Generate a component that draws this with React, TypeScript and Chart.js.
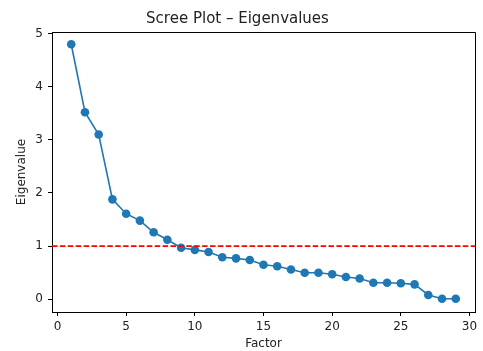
import React, { useEffect, useRef } from "react";
import { Chart, registerables } from "chart.js";

Chart.register(...registerables);

const factors = [1, 2, 3, 4, 5, 6, 7, 8, 9, 10, 11, 12, 13, 14, 15, 16, 17, 18, 19, 20, 21, 22, 23, 24, 25, 26, 27, 28, 29];
const eigenvalues = [4.8, 3.52, 3.1, 1.88, 1.61, 1.48, 1.26, 1.12, 0.97, 0.93, 0.89, 0.79, 0.77, 0.74, 0.65, 0.62, 0.56, 0.5, 0.5, 0.47, 0.42, 0.39, 0.31, 0.31, 0.3, 0.28, 0.08, 0.01, 0.01];
const xTicks = [0, 5, 10, 15, 20, 25, 30];
const yTicks = [0, 1, 2, 3, 4, 5];
const threshold = 1;
const xRange = [-0.4, 30.4];
const yRange = [-0.24, 5.03];

const FONT = "'DejaVu Sans', sans-serif";
const TEXT = "#222";

const framePlugin = {
  id: "frame",
  afterDraw(chart: any) {
    const { ctx, chartArea } = chart;
    ctx.save();
    ctx.strokeStyle = "#000";
    ctx.lineWidth = 1;
    ctx.beginPath();
    ctx.moveTo(chartArea.left, chartArea.top + 0.5);
    ctx.lineTo(chartArea.right + 0.5, chartArea.top + 0.5);
    ctx.lineTo(chartArea.right + 0.5, chartArea.bottom);
    ctx.stroke();
    ctx.restore();
  },
};

export default function App() {
  const ref = useRef<HTMLCanvasElement>(null);

  useEffect(() => {
    if (!ref.current) return;
    const chart = new Chart(ref.current, {
      type: "line",
      data: {
        datasets: [
          {
            label: "Eigenvalue = 1",
            data: [
              { x: xRange[0], y: threshold },
              { x: xRange[1], y: threshold },
            ],
            borderColor: "#ff0000",
            borderWidth: 1.6,
            borderDash: [5.5, 2.4],
            pointRadius: 0,
            order: 0,
          },
          {
            label: "Eigenvalues",
            data: factors.map((f, i) => ({ x: f, y: eigenvalues[i] })),
            borderColor: "#1f77b4",
            backgroundColor: "#1f77b4",
            borderWidth: 1.6,
            pointRadius: 4.3,
            pointBorderWidth: 0,
            pointBackgroundColor: "#1f77b4",
            tension: 0,
            order: 1,
          },
        ],
      },
      options: {
        animation: false,
        responsive: false,
        devicePixelRatio: 1,
        layout: { padding: { left: 0, right: 8, top: 0, bottom: 0 } },
        plugins: {
          legend: { display: false },
          tooltip: { enabled: false },
          title: {
            display: true,
            text: "Scree Plot – Eigenvalues",
            color: TEXT,
            font: { family: FONT, size: 15, weight: "normal", lineHeight: 1.2 },
            padding: { top: 9.8, bottom: 4.2 },
          },
        },
        scales: {
          x: {
            type: "linear",
            min: xRange[0],
            max: xRange[1],
            afterBuildTicks: (s: any) => {
              s.ticks = xTicks.map((v) => ({ value: v }));
            },
            afterFit: (s: any) => {
              s.height = 39;
            },
            grid: { drawOnChartArea: false, drawTicks: true, tickLength: 4, color: "#000" },
            border: { display: true, color: "#000", width: 1 },
            ticks: { color: TEXT, font: { family: FONT, size: 12 }, padding: 4, maxRotation: 0, autoSkip: false },
            title: {
              display: true,
              text: "Factor",
              color: TEXT,
              font: { family: FONT, size: 12, lineHeight: 1.2 },
              padding: { top: 0, bottom: 0 },
            },
          },
          y: {
            type: "linear",
            min: yRange[0],
            max: yRange[1],
            afterBuildTicks: (s: any) => {
              s.ticks = yTicks.map((v) => ({ value: v }));
            },
            afterFit: (s: any) => {
              s.width = 52;
            },
            grid: { drawOnChartArea: false, drawTicks: true, tickLength: 4, color: "#000" },
            border: { display: true, color: "#000", width: 1 },
            ticks: { color: TEXT, font: { family: FONT, size: 12 }, padding: 5, autoSkip: false },
            title: {
              display: true,
              text: "Eigenvalue",
              color: TEXT,
              font: { family: FONT, size: 12, lineHeight: 1.2 },
              padding: { top: 15.1, bottom: 0 },
            },
          },
        },
      },
      plugins: [framePlugin],
    });
    return () => chart.destroy();
  }, []);

  return (
    <div style={{ position: "absolute", left: 0, top: 0, width: 483, height: 351, background: "#fff" }}>
      <canvas ref={ref} width={483} height={351} style={{ display: "block", width: 483, height: 351 }} />
    </div>
  );
}
